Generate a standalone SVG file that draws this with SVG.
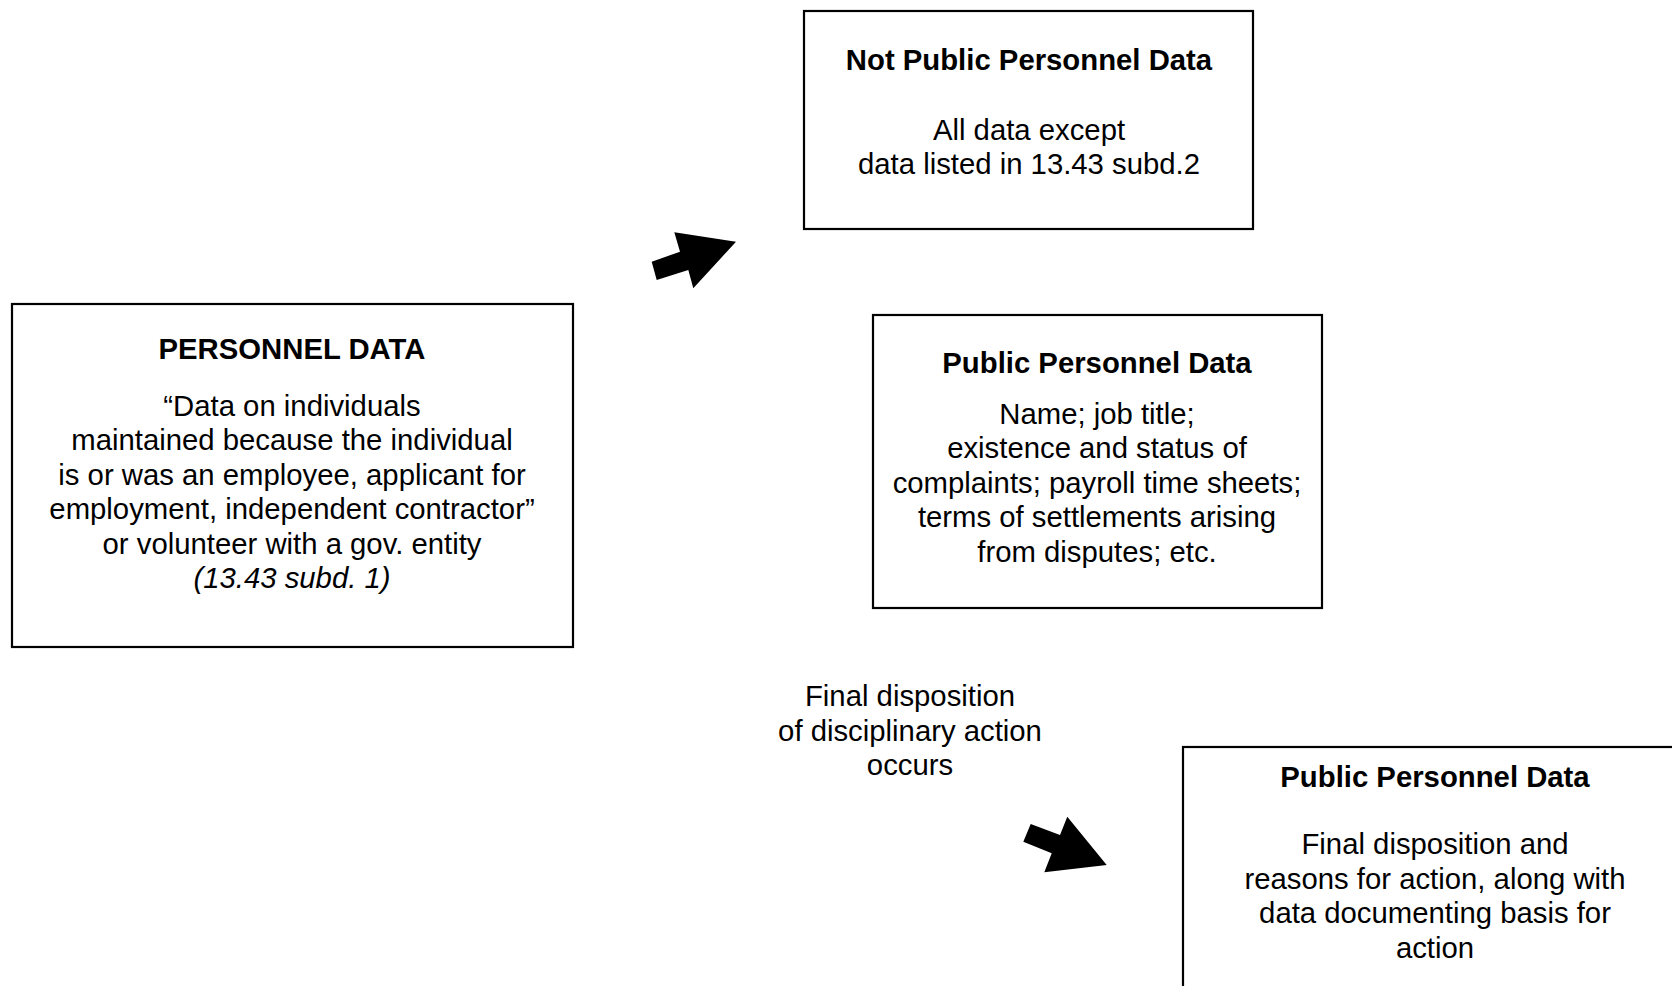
<svg xmlns="http://www.w3.org/2000/svg" width="1672" height="986" viewBox="0 0 1672 986">
<style>
.box{fill:#fff;stroke:#000;stroke-width:2.2}
text{font-family:"Liberation Sans",Arial,sans-serif;font-size:29.3px;fill:#000;text-anchor:middle}
.t{font-weight:bold}
.i{font-style:italic}
.arr{fill:#000}
</style>
<rect width="1672" height="986" fill="#fff"/>
<g id="personnel-data">
<rect class="box" x="12" y="304" width="561" height="343"/>
<text class="t" x="292" y="359">PERSONNEL DATA</text>
<text x="292" y="416">“Data on individuals</text>
<text x="292" y="450">maintained because the individual</text>
<text x="292" y="485">is or was an employee, applicant for</text>
<text x="292" y="519">employment, independent contractor”</text>
<text x="292" y="554">or volunteer with a gov. entity</text>
<text class="i" x="292" y="588">(13.43 subd. 1)</text>
</g>
<g id="not-public">
<rect class="box" x="804" y="11" width="449" height="218"/>
<text class="t" x="1029" y="70">Not Public Personnel Data</text>
<text x="1029" y="140">All data except</text>
<text x="1029" y="174">data listed in 13.43 subd.2</text>
</g>
<g id="public">
<rect class="box" x="873" y="315" width="449" height="293"/>
<text class="t" x="1097" y="373">Public Personnel Data</text>
<text x="1097" y="424">Name; job title;</text>
<text x="1097" y="458">existence and status of</text>
<text x="1097" y="493">complaints; payroll time sheets;</text>
<text x="1097" y="527">terms of settlements arising</text>
<text x="1097" y="562">from disputes; etc.</text>
</g>
<g id="public-final">
<rect class="box" x="1183" y="747" width="520" height="260"/>
<text class="t" x="1435" y="787">Public Personnel Data</text>
<text x="1435" y="854">Final disposition and</text>
<text x="1435" y="889">reasons for action, along with</text>
<text x="1435" y="923">data documenting basis for</text>
<text x="1435" y="958">action</text>
</g>
<g id="label-final">
<text x="910" y="706">Final disposition</text>
<text x="910" y="741">of disciplinary action</text>
<text x="910" y="775">occurs</text>
</g>
<g id="connectors">
<polygon class="arr" points="651.7,261.7 680,251.7 674.3,232.3 736,241.7 693.3,288.3 688.3,270 656.7,280"/>
<polygon class="arr" points="1030.7,824 1060,835 1067.3,816.7 1106.7,865 1044.3,872.3 1051.7,853.3 1023.3,841.7"/>
</g>
</svg>
